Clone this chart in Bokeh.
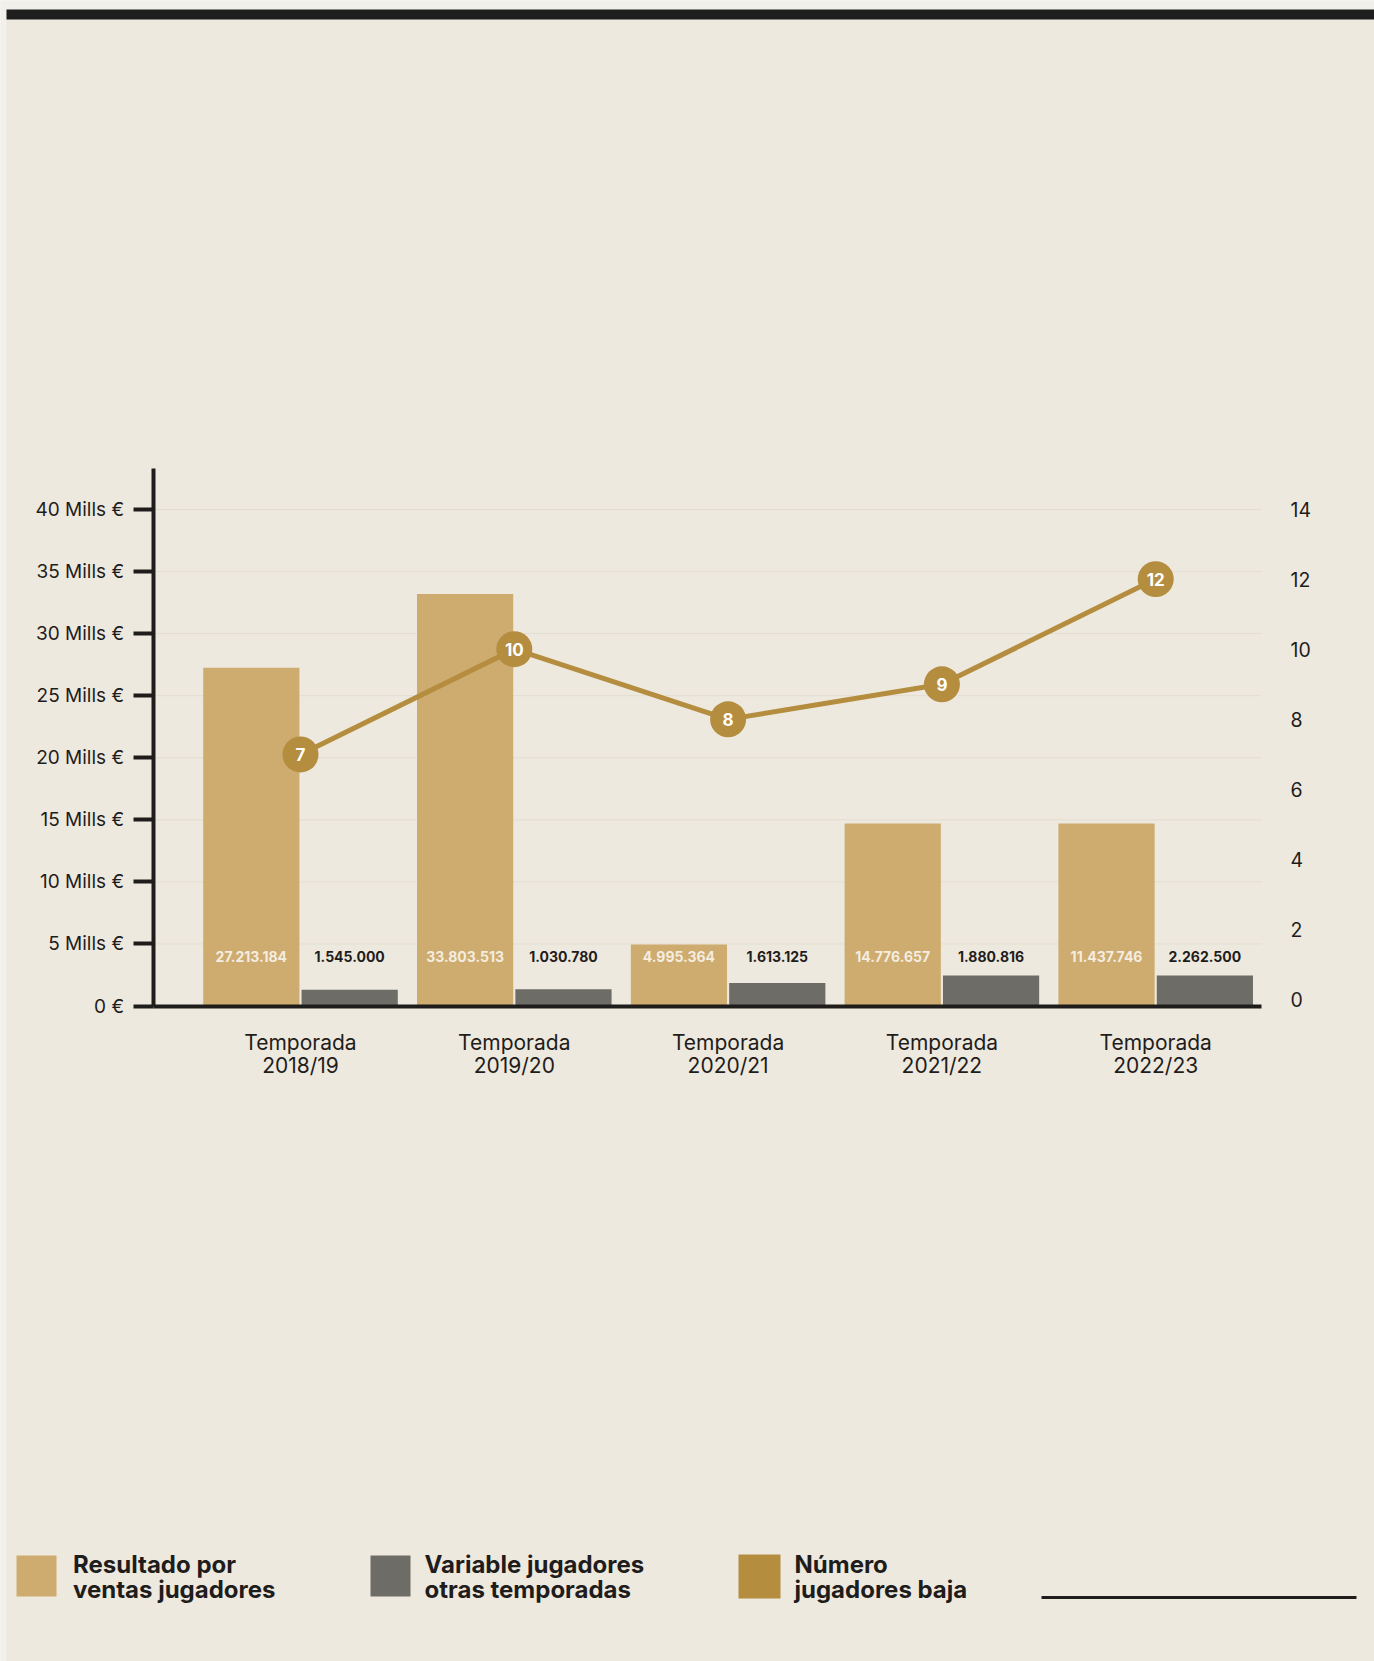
from bokeh.plotting import figure
from bokeh.models import Range1d, LinearAxis, FixedTicker
from bokeh.embed import file_html
from bokeh.resources import INLINE
from bokeh.core.properties import value

# ---------------- data ----------------
temporadas = ["Temporada\n2018/19", "Temporada\n2019/20", "Temporada\n2020/21",
              "Temporada\n2021/22", "Temporada\n2022/23"]
# bar heights as drawn (euros)
resultado_ventas = [27_250_000, 33_200_000, 4_950_000, 14_700_000, 14_700_000]
variable_jugadores = [1_300_000, 1_350_000, 1_850_000, 2_450_000, 2_450_000]
# printed value labels
etiquetas_resultado = ["27.213.184", "33.803.513", "4.995.364", "14.776.657", "11.437.746"]
etiquetas_variable = ["1.545.000", "1.030.780", "1.613.125", "1.880.816", "2.262.500"]
jugadores_baja = [7, 10, 8, 9, 12]

ticks_izq = [0, 5_000_000, 10_000_000, 15_000_000, 20_000_000,
             25_000_000, 30_000_000, 35_000_000, 40_000_000]
etiquetas_izq = ["0 €", "5 Mills €", "10 Mills €", "15 Mills €", "20 Mills €",
                 "25 Mills €", "30 Mills €", "35 Mills €", "40 Mills €"]
ticks_der = [0, 2, 4, 6, 8, 10, 12, 14]

leyenda = ["Resultado por\nventas jugadores",
           "Variable jugadores\notras temporadas",
           "Número\njugadores baja"]

# ---------------- styles / layout ----------------
BG = "#EEE9DF"
EDGE = "#F2F0EB"
DARK = "#1F1D1B"
GOLD_BAR = "#CEAB6F"
GOLD_LINE = "#B48D3F"
GRAY_BAR = "#6E6C67"
FONT = "Inter"
W, H = 1374, 1661

# pixel geometry of the chart area
X0_PX, X_STEP = 300.0, 213.8          # first category centre, px per category
Y0_PX, Y_PER_M = 1005.5, 12.4125      # baseline, px per million euros
R0_PX, R_PER_U = 999.3, 35.057        # right axis zero, px per unit
AXIS_L_PX, AXIS_R_PX, AXIS_TOP_PX = 152.6, 1261.0, 468.0

def px_to_x(px):
    return (px - X0_PX) / X_STEP

def px_to_y(py):
    return (Y0_PX - py) / Y_PER_M * 1e6

def px_to_r(py):
    return (R0_PX - py) / R_PER_U

p = figure(width=W, height=H, output_backend="svg", toolbar_location=None,
           x_axis_location=None, y_axis_location=None, min_border=0,
           x_range=Range1d(px_to_x(0), px_to_x(W)),
           y_range=Range1d(px_to_y(H), px_to_y(0)),
           background_fill_color=BG, border_fill_color=BG, outline_line_color=None)
p.grid.visible = False
p.extra_y_ranges = {"der": Range1d(px_to_r(H), px_to_r(0)),
                    "px": Range1d(H, 0)}
p.extra_x_ranges = {"px": Range1d(0, W)}

x_left, x_right = px_to_x(AXIS_L_PX), px_to_x(AXIS_R_PX)
y_top = px_to_y(AXIS_TOP_PX)

# paper edges and top dark strip
p.quad(left=[0, 0], right=[6, W], top=[0, 0], bottom=[H, 9],
       x_range_name="px", y_range_name="px", fill_color=EDGE, line_color=None)
p.quad(left=[6], right=[W], top=[9], bottom=[19], x_range_name="px", y_range_name="px",
       fill_color="#1E1E1E", line_color=None)

# gridlines
grid_y = ticks_izq[1:]
p.segment(x0=[x_left] * len(grid_y), x1=[x_right] * len(grid_y), y0=grid_y, y1=grid_y,
          line_color="#E3DDD0", line_width=1)

idx = list(range(len(temporadas)))
x_res = [i - 0.23 for i in idx]
x_var = [i + 0.23 for i in idx]

p.vbar(x=x_res, top=resultado_ventas, bottom=0, width=0.45,
       fill_color=GOLD_BAR, line_color=None)
p.vbar(x=x_var, top=variable_jugadores, bottom=0, width=0.45,
       fill_color=GRAY_BAR, line_color=None)

label_y = [3_980_000] * len(idx)
p.text(x=x_res, y=label_y, text=etiquetas_resultado, text_align="center",
       text_baseline="middle", text_font=value(FONT), text_font_style="bold",
       text_font_size="14px", text_color="#F4EDE0")
p.text(x=x_var, y=label_y, text=etiquetas_variable, text_align="center",
       text_baseline="middle", text_font=value(FONT), text_font_style="bold",
       text_font_size="14px", text_color=DARK)

p.line(x=idx, y=jugadores_baja, y_range_name="der", line_width=5, line_color=GOLD_LINE)
p.scatter(x=idx, y=jugadores_baja, y_range_name="der", size=36,
          fill_color=GOLD_LINE, line_color=None)
p.text(x=idx, y=jugadores_baja, y_range_name="der", text=[str(v) for v in jugadores_baja],
       text_align="center", text_baseline="middle", text_font=value(FONT),
       text_font_style="bold", text_font_size="17px", text_color="#FFFFFF")

# axes
yaxis = LinearAxis(ticker=FixedTicker(ticks=ticks_izq), fixed_location=x_left,
                   bounds=(0, y_top),
                   major_label_overrides=dict(zip(ticks_izq, etiquetas_izq)))
yaxis.axis_line_width = 4
yaxis.axis_line_color = DARK
yaxis.major_tick_line_width = 4
yaxis.major_tick_line_color = DARK
yaxis.major_tick_out = 20
yaxis.major_tick_in = 0
yaxis.minor_tick_line_color = None
yaxis.major_label_standoff = 9
yaxis.major_label_text_font = FONT
yaxis.major_label_text_font_size = "19px"
yaxis.major_label_text_color = DARK
p.add_layout(yaxis, "left")

xaxis = LinearAxis(ticker=FixedTicker(ticks=idx), fixed_location=0,
                   bounds=(x_left, x_right),
                   major_label_overrides=dict(zip(idx, temporadas)))
xaxis.axis_line_width = 4
xaxis.axis_line_color = DARK
xaxis.major_tick_line_color = None
xaxis.minor_tick_line_color = None
xaxis.major_tick_out = 0
xaxis.major_tick_in = 0
xaxis.major_label_standoff = 24
xaxis.major_label_text_font = FONT
xaxis.major_label_text_font_size = "21px"
xaxis.major_label_text_line_height = 0.93
xaxis.major_label_text_color = DARK
p.add_layout(xaxis, "below")

raxis = LinearAxis(y_range_name="der", ticker=FixedTicker(ticks=ticks_der),
                   fixed_location=x_right)
raxis.axis_line_color = None
raxis.major_tick_line_color = None
raxis.minor_tick_line_color = None
raxis.major_tick_out = 0
raxis.major_tick_in = 0
raxis.major_label_standoff = 29
raxis.major_label_text_font = FONT
raxis.major_label_text_font_size = "19.5px"
raxis.major_label_text_color = DARK
p.add_layout(raxis, "right")

# legend (drawn in pixel space)
sq_left = [16, 370, 738]
sq_right = [56, 410, 780]
sq_top = [1555, 1555, 1554]
sq_bottom = [1596, 1596, 1598]
p.quad(left=sq_left, right=sq_right, top=sq_top, bottom=sq_bottom,
       x_range_name="px", y_range_name="px",
       fill_color=[GOLD_BAR, GRAY_BAR, GOLD_LINE], line_color=None)

tx, ty, tt = [], [], []
for x0, lab in zip([72.5, 424, 794], leyenda):
    for k, line in enumerate(lab.split("\n")):
        tx.append(x0)
        ty.append(1564 + k * 24.5)
        tt.append(line)
p.text(x=tx, y=ty, text=tt, x_range_name="px", y_range_name="px",
       text_align="left", text_baseline="middle",
       text_font=value(FONT), text_font_style="bold", text_font_size="24px",
       text_color=DARK)
p.segment(x0=[1041], x1=[1356], y0=[1597], y1=[1597], x_range_name="px", y_range_name="px",
          line_width=3, line_color=DARK)

open("out.html", "w").write(file_html(p, INLINE))
